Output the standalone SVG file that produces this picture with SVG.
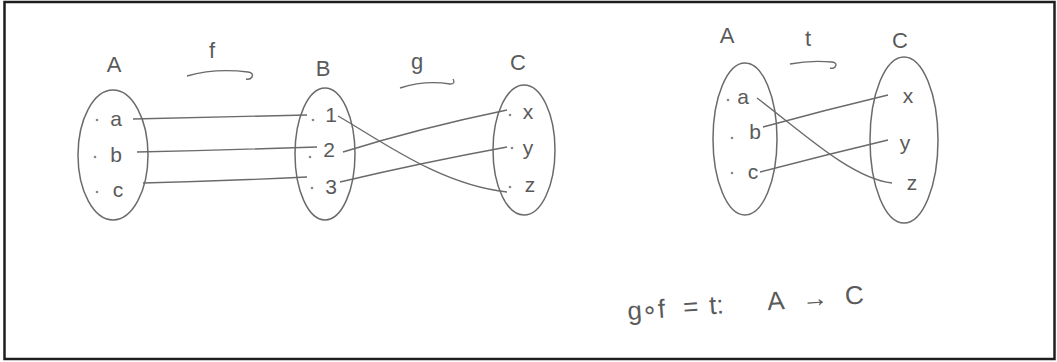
<svg xmlns="http://www.w3.org/2000/svg" width="1057" height="362" viewBox="0 0 1057 362">
<style>
.set{fill:none;stroke:#6a6a6a;stroke-width:1.5}
.lbl{font-family:"Liberation Sans",Arial,sans-serif;font-size:22px;fill:#5a5a5a;text-anchor:middle}
.el{font-family:"Liberation Sans",Arial,sans-serif;font-size:21px;fill:#5a5a5a;text-anchor:middle}
.dot{fill:#888}
.ln{fill:none;stroke:#6a6a6a;stroke-width:1.4}
</style>
<rect x="0" y="0" width="1057" height="362" fill="#fff"/>
<rect x="4.5" y="2" width="1050" height="357" fill="none" stroke="#1e1e1e" stroke-width="2.5"/>

<g id="labels">
<text class="lbl" x="114" y="72">A</text>
<text class="lbl" x="212" y="58">f</text>
<text class="lbl" x="323" y="76">B</text>
<text class="lbl" x="417" y="69">g</text>
<text class="lbl" x="518" y="70">C</text>
<text class="lbl" x="727" y="43">A</text>
<text class="lbl" x="808" y="46">t</text>
<text class="lbl" x="900" y="48">C</text>
<path class="ln" d="M187,76 Q215,68 248,72 q6,1 4,5 q-2,3 -6,2"/>
<path class="ln" d="M400,88 Q425,80 450,84 q6,0 3,-5"/>
<path class="ln" d="M790,64 Q810,60 832,62 q6,1 3,5 q-2,2 -5,1"/>
</g>

<g id="set-A">
<ellipse class="set" cx="113" cy="155" rx="35" ry="65"/>
<circle class="dot" cx="97" cy="120" r="1.3"/><circle class="dot" cx="95" cy="157" r="1.3"/><circle class="dot" cx="97" cy="192" r="1.3"/>
<text class="el" x="116" y="126">a</text><text class="el" x="116" y="162">b</text><text class="el" x="118" y="197">c</text>
</g>
<g id="set-B">
<ellipse class="set" cx="325" cy="154" rx="30" ry="66"/>
<circle class="dot" cx="313" cy="120" r="1.3"/><circle class="dot" cx="310" cy="157" r="1.3"/><circle class="dot" cx="312" cy="188" r="1.3"/>
<text class="el" x="331" y="122">1</text><text class="el" x="329" y="157">2</text><text class="el" x="331" y="194">3</text>
</g>
<g id="set-C">
<ellipse class="set" cx="524" cy="150" rx="31" ry="65"/>
<circle class="dot" cx="510" cy="115" r="1.3"/><circle class="dot" cx="512" cy="148" r="1.3"/><circle class="dot" cx="510" cy="187" r="1.3"/>
<text class="el" x="528" y="119">x</text><text class="el" x="528" y="155">y</text><text class="el" x="530" y="192">z</text>
</g>
<g id="set-A2">
<ellipse class="set" cx="745" cy="139" rx="32" ry="76"/>
<circle class="dot" cx="728" cy="100" r="1.3"/><circle class="dot" cx="732" cy="138" r="1.3"/><circle class="dot" cx="732" cy="173" r="1.3"/>
<text class="el" x="743" y="104">a</text><text class="el" x="755" y="139">b</text><text class="el" x="753" y="179">c</text>
</g>
<g id="set-C2">
<ellipse class="set" cx="904" cy="140" rx="34" ry="83"/>
<text class="el" x="908" y="103">x</text><text class="el" x="905" y="150">y</text><text class="el" x="912" y="190">z</text>
</g>

<g id="connectors">
<path class="ln" d="M133,119 Q220,117 307,115"/>
<path class="ln" d="M137,152 Q225,150 317,147"/>
<path class="ln" d="M143,183 Q225,181 307,177"/>
<path class="ln" d="M343,152 Q420,128 507,110"/>
<path class="ln" d="M340,182 Q420,163 507,147"/>
<path class="ln" d="M338,116 C380,140 440,185 507,192"/>
<path class="ln" d="M757,98 C800,130 850,178 892,183"/>
<path class="ln" d="M763,127 Q825,110 888,95"/>
<path class="ln" d="M760,172 Q825,155 888,140"/>
</g>

<g id="formula">
<text transform="rotate(-4 628 320)" font-family="'Liberation Sans',Arial,sans-serif" font-size="26" fill="#5a5a5a"><tspan x="628" y="320">g∘f</tspan><tspan x="684" y="320">=</tspan><tspan x="710" y="320">t:</tspan><tspan x="768" y="320">A</tspan><tspan x="803" y="320">→</tspan><tspan x="846" y="320">C</tspan></text>
</g>
</svg>
